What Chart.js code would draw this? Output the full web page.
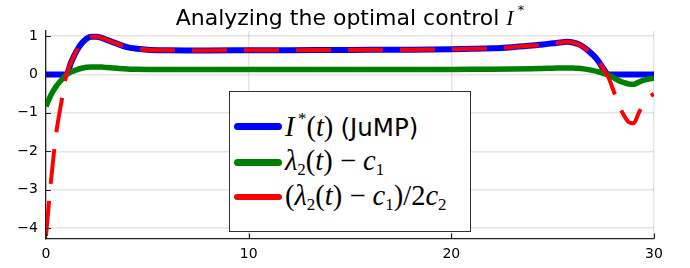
<!DOCTYPE html>
<html>
<head>
<meta charset="utf-8">
<script src="https://cdn.jsdelivr.net/npm/chart.js@4/dist/chart.umd.min.js"></script>
<style>
  body { margin: 0; background: #fff; }
  #wrap { position: relative; width: 690px; height: 268px; }
  #title {
    position: absolute; left: 0; top: 2px; width: 700px; text-align: center;
    font-family: "DejaVu Sans", sans-serif; font-size: 22px; color: #000;
  }
  .m { font-family: "Liberation Serif", serif; font-style: italic; }
  .u { font-family: "Liberation Serif", serif; font-style: normal; }
  #legend {
    position: absolute; left: 229px; top: 91px; width: 240px; height: 139px;
    border: 1px solid #333; background: #fff;
  }
  .row { position: absolute; left: 0; height: 36px; display: flex; align-items: center; white-space: nowrap; }
  .sw { width: 48px; border-radius: 4px; margin-left: 4px; margin-right: 3px; }
  .lt { font-size: 28.5px; color: #000; }
  .lt sub { font-size: 17px; vertical-align: -5px; }
  .lt sup { font-size: 17px; vertical-align: 12px; }
</style>
</head>
<body>
<div id="wrap">
  <canvas id="chart" width="690" height="268"></canvas>
  <div id="title">Analyzing the optimal control <span class="m">I</span><sup style="font-size:13px;vertical-align:11px"> *</sup></div>
  <div id="legend">
    <div class="row" style="top:16px"><div class="sw" style="height:7px;background:#0000ff"></div><span class="lt"><span class="m">I</span><sup class="u">&thinsp;*</sup><span class="u">(</span><span class="m">t</span><span class="u">)</span> <span style="font-family:'DejaVu Sans';font-size:24.5px">(JuMP)</span></span></div>
    <div class="row" style="top:52px"><div class="sw" style="height:7px;background:#008000"></div><span class="lt"><span class="m">λ</span><sub class="u">2</sub><span class="u">(</span><span class="m">t</span><span class="u">) − </span><span class="m">c</span><sub class="u">1</sub></span></div>
    <div class="row" style="top:87px"><div class="sw" style="height:6px;background:#ff0000"></div><span class="lt"><span class="u">(</span><span class="m">λ</span><sub class="u">2</sub><span class="u">(</span><span class="m">t</span><span class="u">) − </span><span class="m">c</span><sub class="u">1</sub><span class="u">)/2</span><span class="m">c</span><sub class="u">2</sub></span></div>
  </div>
</div>
<script>
// time grid (denser where the curves bend)
var t = [0, 0.25, 0.5, 0.75, 1, 1.25, 1.5, 1.75, 2, 2.25, 2.5, 2.75, 3, 3.5, 4, 4.5, 5, 6, 7, 8, 10, 12, 14, 16, 18, 20, 21, 22, 23, 24, 24.5, 25, 25.5, 25.75, 26, 26.25, 26.5, 26.75, 27, 27.25, 27.5, 27.75, 28, 28.25, 28.5, 28.75, 29, 29.25, 29.5, 29.75, 30];

// I*(t) from JuMP
var iStar = [0, 0, 0, 0, 0, 0.33, 0.6, 0.8, 0.93, 0.98, 0.98, 0.95, 0.9, 0.8, 0.71, 0.67, 0.645, 0.63, 0.625, 0.625, 0.628, 0.63, 0.635, 0.64, 0.645, 0.655, 0.665, 0.68, 0.71, 0.75, 0.78, 0.81, 0.84, 0.85, 0.83, 0.79, 0.72, 0.62, 0.5, 0.35, 0.15, 0, 0, 0, 0, 0, 0, 0, 0, 0, 0];

// lambda_2(t) - c_1
var lamMinusC = [-0.83, -0.53, -0.31, -0.15, -0.005, 0.066, 0.12, 0.16, 0.185, 0.195, 0.195, 0.19, 0.18, 0.16, 0.142, 0.134, 0.129, 0.126, 0.125, 0.125, 0.125, 0.126, 0.127, 0.128, 0.129, 0.131, 0.133, 0.136, 0.142, 0.15, 0.156, 0.162, 0.168, 0.17, 0.166, 0.158, 0.144, 0.124, 0.1, 0.07, 0.03, -0.016, -0.084, -0.156, -0.21, -0.248, -0.254, -0.2, -0.15, -0.12, -0.1];

// (lambda_2(t) - c_1) / 2c_2
var ratio = [-4.2, -2.75, -1.55, -0.75, -0.02, 0.33, 0.6, 0.8, 0.93, 0.98, 0.98, 0.95, 0.9, 0.8, 0.71, 0.67, 0.645, 0.63, 0.625, 0.625, 0.628, 0.63, 0.635, 0.64, 0.645, 0.655, 0.665, 0.68, 0.71, 0.75, 0.78, 0.81, 0.84, 0.85, 0.83, 0.79, 0.72, 0.62, 0.5, 0.35, 0.15, -0.08, -0.42, -0.78, -1.05, -1.24, -1.27, -1.0, -0.75, -0.6, -0.5];

var xTicks = [0, 10, 20, 30];
var yTicks = [-4, -3, -2, -1, 0, 1];

function pts(ys) {
  return t.map(function (x, i) { return { x: x, y: ys[i] }; });
}

// Plots.jl style ticks pointing into the plot area
var innerTicks = {
  id: 'innerTicks',
  afterDraw: function (chart) {
    var c = chart.ctx, a = chart.chartArea;
    var xs = chart.scales.x, ys = chart.scales.y;
    c.save();
    c.strokeStyle = '#222';
    c.lineWidth = 1.2;
    c.beginPath();
    xTicks.forEach(function (v) {
      var px = Math.round(xs.getPixelForValue(v)) + 0.5;
      c.moveTo(px, a.bottom);
      c.lineTo(px, a.bottom - 5);
    });
    yTicks.forEach(function (v) {
      var py = Math.round(ys.getPixelForValue(v)) + 0.5;
      c.moveTo(a.left, py);
      c.lineTo(a.left + 5, py);
    });
    c.stroke();
    c.restore();
  }
};

var ctx = document.getElementById('chart').getContext('2d');
var chart = new Chart(ctx, {
  type: 'line',
  data: {
    datasets: [
      {
        label: 'I*(t) (JuMP)',
        data: pts(iStar),
        borderColor: '#0000ff',
        borderWidth: 6,
        order: 3
      },
      {
        label: 'λ2(t) − c1',
        data: pts(lamMinusC),
        borderColor: '#008000',
        borderWidth: 5.5,
        order: 2
      },
      {
        label: '(λ2(t) − c1)/2c2',
        data: pts(ratio),
        borderColor: '#ff0000',
        borderWidth: 4,
        borderDash: [35, 17],
        borderCapStyle: 'butt',
        order: 1
      }
    ]
  },
  options: {
    responsive: false,
    devicePixelRatio: 1,
    animation: false,
    layout: { padding: { top: 31, right: 36, left: 0, bottom: 0 } },
    plugins: {
      legend: { display: false },
      title: { display: false },
      tooltip: { enabled: false }
    },
    elements: { point: { radius: 0 }, line: { cubicInterpolationMode: 'monotone' } },
    scales: {
      x: {
        type: 'linear',
        min: 0,
        max: 30,
        afterFit: function (s) { s.height = 29.5; },
        afterBuildTicks: function (s) { s.ticks = xTicks.map(function (v) { return { value: v }; }); },
        grid: { color: 'rgba(0,0,0,0.1)', lineWidth: 1.5, drawTicks: false },
        border: { color: '#222', width: 1.3 },
        ticks: { padding: 7, color: '#000', font: { family: 'DejaVu Sans', size: 14 }, maxRotation: 0 }
      },
      y: {
        min: -4.27,
        max: 1.13,
        afterFit: function (s) { s.width = 46; },
        afterBuildTicks: function (s) { s.ticks = yTicks.map(function (v) { return { value: v }; }); },
        grid: { color: 'rgba(0,0,0,0.1)', lineWidth: 1.5, drawTicks: false },
        border: { color: '#222', width: 1.3 },
        ticks: {
          padding: 8, color: '#000', font: { family: 'DejaVu Sans', size: 14 },
          callback: function (v) { return String(v).replace('-', '\u2212'); }
        }
      }
    }
  },
  plugins: [innerTicks]
});
</script>
</body>
</html>
